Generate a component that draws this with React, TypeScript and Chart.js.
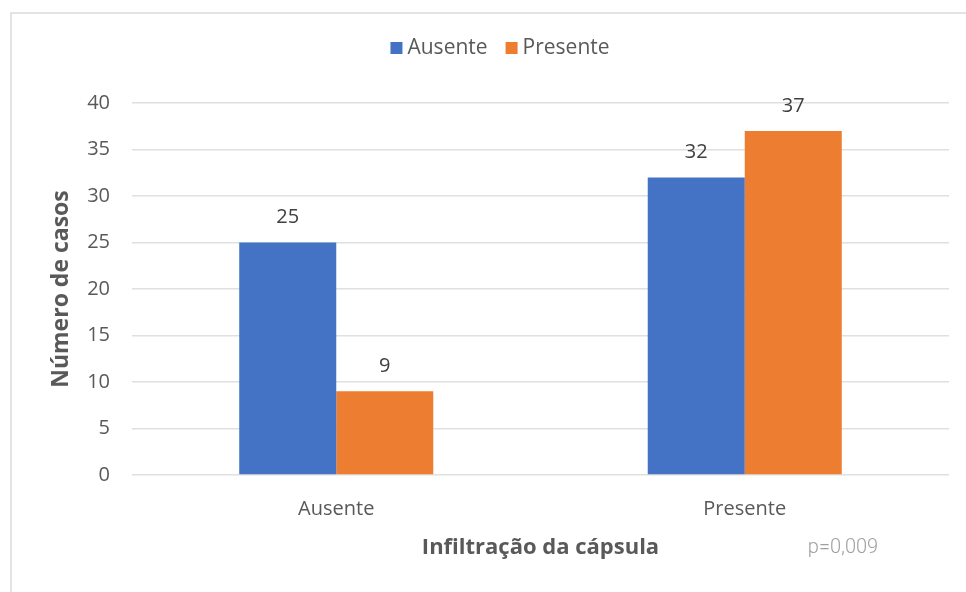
import { useEffect, useRef } from 'react';
import { Chart, registerables } from 'chart.js';

Chart.register(...registerables);

// Categories on the x axis (capsule infiltration)
const categories = ['Ausente', 'Presente'];
// Series names
const seriesAusente = 'Ausente';
const seriesPresente = 'Presente';
// Case counts per series
const ausenteValues = [25, 32];
const presenteValues = [9, 37];
// Y axis range
const yMin = 0;
const yMax = 40;
const yStep = 5;

const FONT = '"Open Sans", "Liberation Sans", sans-serif';
const TEXT = '#595959';

// Legend drawn as a single centred row above the plot
const topLegend = {
  id: 'topLegend',
  afterDraw(chart: any) {
    const ctx = chart.ctx as CanvasRenderingContext2D;
    ctx.save();
    ctx.font = `21px ${FONT}`;
    const items = chart.data.datasets.map((ds: any) => ({
      label: ds.label as string,
      color: ds.backgroundColor as string,
      w: ctx.measureText(ds.label).width,
    }));
    const box = 12;
    const gap = 5;
    const spacing = 18;
    const total =
      items.reduce((s: number, it: any) => s + box + gap + it.w, 0) + spacing * (items.length - 1);
    let x = chart.width / 2 - total / 2;
    const y = chart.chartArea.top - 55;
    ctx.textBaseline = 'middle';
    ctx.textAlign = 'left';
    for (const it of items) {
      ctx.fillStyle = it.color;
      ctx.fillRect(x, y - box / 2, box, box);
      x += box + gap;
      ctx.fillStyle = TEXT;
      ctx.fillText(it.label, x, y);
      x += it.w + spacing;
    }
    ctx.restore();
  },
};

// Value labels above each bar
const barValues = {
  id: 'barValues',
  afterDatasetsDraw(chart: any) {
    const ctx = chart.ctx as CanvasRenderingContext2D;
    ctx.save();
    ctx.font = `20px ${FONT}`;
    ctx.fillStyle = '#404040';
    ctx.textAlign = 'center';
    ctx.textBaseline = 'middle';
    chart.data.datasets.forEach((ds: any, i: number) => {
      const meta = chart.getDatasetMeta(i);
      meta.data.forEach((el: any, j: number) => {
        ctx.fillText(String(ds.data[j]), el.x, el.y - 25);
      });
    });
    ctx.restore();
  },
};

// Significance note next to the x axis title
const pValueNote = {
  id: 'pValueNote',
  afterDraw(chart: any) {
    const ctx = chart.ctx as CanvasRenderingContext2D;
    const xs = chart.scales.x;
    ctx.save();
    ctx.font = `300 20px Roboto, ${FONT}`;
    ctx.fillStyle = '#a0a0a0';
    ctx.textAlign = 'center';
    ctx.textBaseline = 'middle';
    ctx.fillText('p=0,009', chart.chartArea.right - 106, xs.bottom - 56);
    ctx.restore();
  },
};

export default function App() {
  const ref = useRef<HTMLCanvasElement>(null);

  useEffect(() => {
    const chart = new Chart(ref.current!, {
      type: 'bar',
      data: {
        labels: categories,
        datasets: [
          {
            label: seriesAusente,
            data: ausenteValues,
            backgroundColor: '#4472C4',
            borderWidth: 0,
            categoryPercentage: 0.475,
            barPercentage: 1,
          },
          {
            label: seriesPresente,
            data: presenteValues,
            backgroundColor: '#ED7D31',
            borderWidth: 0,
            categoryPercentage: 0.475,
            barPercentage: 1,
          },
        ],
      },
      options: {
        responsive: false,
        animation: false,
        layout: { padding: { top: 89, right: 39, bottom: 0, left: 0 } },
        plugins: {
          legend: { display: false },
          tooltip: { enabled: false },
        },
        scales: {
          x: {
            grid: { display: false, drawTicks: false },
            border: { display: false },
            ticks: { color: TEXT, font: { family: FONT, size: 20 }, padding: 22 },
            title: {
              display: true,
              text: 'Infiltração da cápsula',
              color: TEXT,
              font: { family: FONT, size: 22, weight: 'bold' },
              padding: { top: 0, bottom: 43 },
            },
            afterFit(axis: any) {
              axis.height = 129;
            },
          },
          y: {
            min: yMin,
            max: yMax,
            ticks: {
              stepSize: yStep,
              color: TEXT,
              font: { family: FONT, size: 20 },
              padding: 22,
            },
            grid: { color: '#e0e0e0', lineWidth: 1.5, drawTicks: false },
            border: { display: false },
            title: {
              display: true,
              text: 'Número de casos',
              color: TEXT,
              font: { family: FONT, size: 23, weight: 'bold' },
              padding: { top: 36, bottom: 0 },
            },
            afterFit(axis: any) {
              axis.width = 120;
            },
          },
        },
      },
      plugins: [topLegend, barValues, pValueNote],
    });
    return () => chart.destroy();
  }, []);

  return (
    <div style={{ position: 'fixed', inset: 0, overflow: 'hidden', background: '#fff' }}>
      <div
        style={{
          position: 'absolute',
          left: 10,
          top: 12,
          width: 976,
          height: 590,
          border: '2px solid #e3e3e3',
        }}
      >
        <canvas ref={ref} width={976} height={590} style={{ display: 'block', width: 976, height: 590 }} />
      </div>
    </div>
  );
}
